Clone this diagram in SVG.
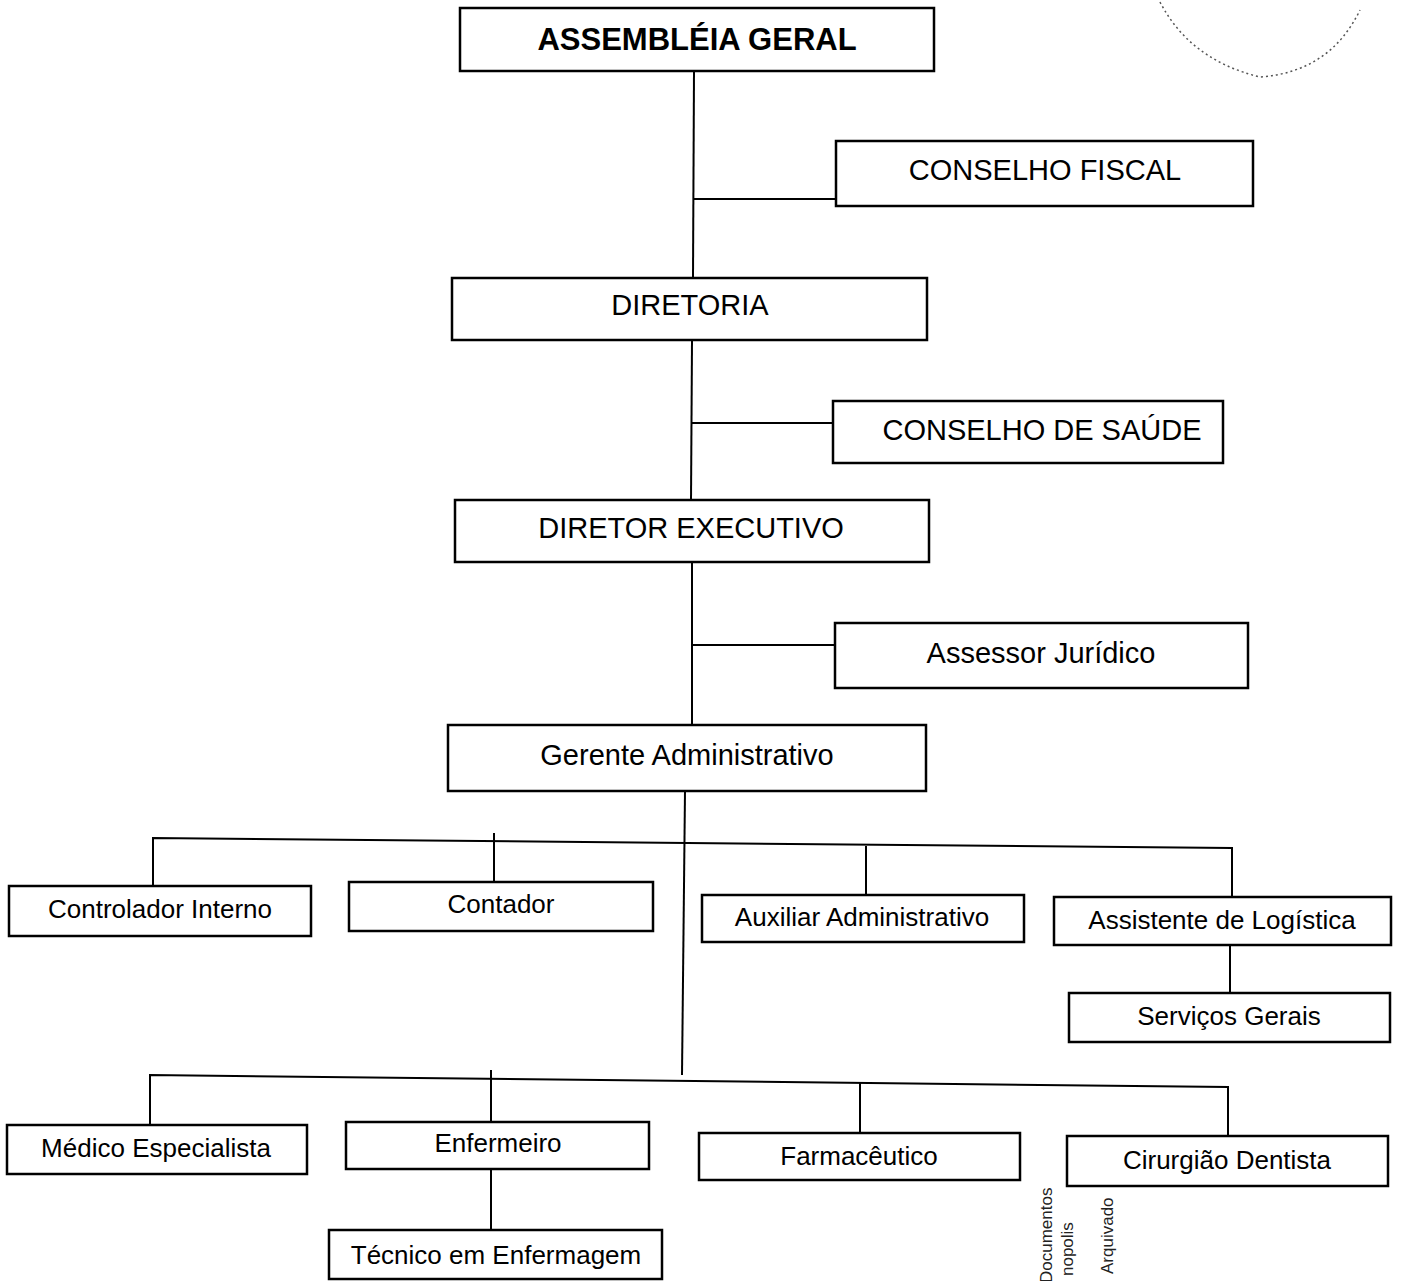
<svg xmlns="http://www.w3.org/2000/svg" width="1402" height="1281" viewBox="0 0 1402 1281">
<style>
.box{fill:#fff;stroke:#000;stroke-width:2.5}
.t{font-family:"Liberation Sans",Arial,sans-serif;fill:#000;text-anchor:middle}
.big{font-size:29px}
.sm{font-size:26px}
.c line,.c polyline{stroke:#000;stroke-width:2;fill:none}
.stamp{font-family:"Liberation Sans",Arial,sans-serif;font-size:17px;fill:#222}
</style>
<rect width="1402" height="1281" fill="#fff"/>
<path d="M1160 2 Q1190 60 1260 77 Q1330 72 1360 10" fill="none" stroke="#555" stroke-width="1.5" stroke-dasharray="2 3"/>
<g class="c" id="connectors">
<line x1="694" y1="71" x2="693" y2="278"/>
<line x1="693" y1="199" x2="836" y2="199"/>
<line x1="692" y1="340" x2="691" y2="500"/>
<line x1="691" y1="423" x2="833" y2="423"/>
<line x1="692" y1="562" x2="692" y2="725"/>
<line x1="692" y1="645" x2="835" y2="645"/>
<line x1="685" y1="791" x2="682" y2="1075"/>
<polyline points="153,886 153,838 1232,848 1232,897"/>
<line x1="494" y1="833" x2="494" y2="882"/>
<line x1="866" y1="846" x2="866" y2="895"/>
<line x1="1230" y1="945" x2="1230" y2="993"/>
<polyline points="150,1125 150,1075 1228,1087 1228,1136"/>
<line x1="491" y1="1070" x2="491" y2="1122"/>
<line x1="860" y1="1083" x2="860" y2="1133"/>
<line x1="491" y1="1169" x2="491" y2="1230"/>
</g>
<g id="assembleia"><rect class="box" x="460" y="8" width="474" height="63"/><text class="t" x="697" y="50" font-size="31" font-weight="bold">ASSEMBLÉIA GERAL</text></g>
<g id="conselho-fiscal"><rect class="box" x="836" y="141" width="417" height="65"/><text class="t big" x="1045" y="180">CONSELHO FISCAL</text></g>
<g id="diretoria"><rect class="box" x="452" y="278" width="475" height="62"/><text class="t big" x="690" y="315">DIRETORIA</text></g>
<g id="conselho-saude"><rect class="box" x="833" y="401" width="390" height="62"/><text class="t big" x="1042" y="440">CONSELHO DE SAÚDE</text></g>
<g id="diretor-executivo"><rect class="box" x="455" y="500" width="474" height="62"/><text class="t big" x="691" y="538">DIRETOR EXECUTIVO</text></g>
<g id="assessor-juridico"><rect class="box" x="835" y="623" width="413" height="65"/><text class="t big" x="1041" y="663">Assessor Jurídico</text></g>
<g id="gerente-adm"><rect class="box" x="448" y="725" width="478" height="66"/><text class="t big" x="687" y="765">Gerente Administrativo</text></g>
<g id="controlador"><rect class="box" x="9" y="886" width="302" height="50"/><text class="t sm" x="160" y="918">Controlador Interno</text></g>
<g id="contador"><rect class="box" x="349" y="882" width="304" height="49"/><text class="t sm" x="501" y="913">Contador</text></g>
<g id="auxiliar-adm"><rect class="box" x="702" y="895" width="322" height="47"/><text class="t sm" x="862" y="926">Auxiliar Administrativo</text></g>
<g id="assistente-logistica"><rect class="box" x="1054" y="897" width="337" height="48"/><text class="t sm" x="1222" y="929">Assistente de Logística</text></g>
<g id="servicos-gerais"><rect class="box" x="1069" y="993" width="321" height="49"/><text class="t sm" x="1229" y="1025">Serviços Gerais</text></g>
<g id="medico"><rect class="box" x="7" y="1125" width="300" height="49"/><text class="t sm" x="156" y="1157">Médico Especialista</text></g>
<g id="enfermeiro"><rect class="box" x="346" y="1122" width="303" height="47"/><text class="t sm" x="498" y="1152">Enfermeiro</text></g>
<g id="farmaceutico"><rect class="box" x="699" y="1133" width="321" height="47"/><text class="t sm" x="859" y="1165">Farmacêutico</text></g>
<g id="dentista"><rect class="box" x="1067" y="1136" width="321" height="50"/><text class="t sm" x="1227" y="1169">Cirurgião Dentista</text></g>
<g id="tecnico-enf"><rect class="box" x="329" y="1230" width="333" height="49"/><text class="t sm" x="496" y="1264">Técnico em Enfermagem</text></g>
<g id="stamp-text">
<text class="stamp" transform="translate(1052,1283) rotate(-90)">Documentos</text>
<text class="stamp" transform="translate(1073,1276) rotate(-90)">nopolis</text>
<text class="stamp" transform="translate(1113,1274) rotate(-90)">Arquivado</text>
</g>
</svg>
